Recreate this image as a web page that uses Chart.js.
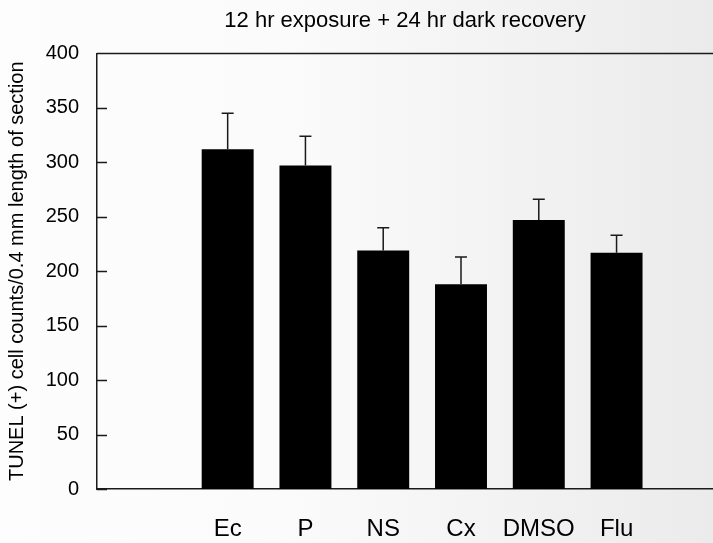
<!DOCTYPE html>
<html>
<head>
<meta charset="utf-8">
<script src="https://cdn.jsdelivr.net/npm/chart.js@4.4.1/dist/chart.umd.min.js"></script>
<style>
    html, body { margin: 0; padding: 0; }
    body {
        width: 713px;
        height: 543px;
        overflow: hidden;
        background: linear-gradient(to right, #fdfdfd 0%, #fbfbfb 40%, #ebebeb 100%);
    }
    #wrap { position: relative; width: 713px; height: 543px; }
</style>
</head>
<body>
<div id="wrap"><canvas id="tunelChart"></canvas></div>
<script>
// --- Data ---
const categories = ['Ec', 'P', 'NS', 'Cx', 'DMSO', 'Flu'];
const meanCounts = [312, 297, 219, 188, 247, 217];
const upperError = [33, 27, 21, 25, 19, 16];
const yTicks = [0, 50, 100, 150, 200, 250, 300, 350, 400];

const AXIS_COLOR = '#1a1a1a';
const FONT = "'Liberation Sans', Arial, sans-serif";

// error bars (upper only)
const errorBars = {
    id: 'errorBars',
    afterDatasetsDraw(chart) {
        const { ctx, scales: { y } } = chart;
        const meta = chart.getDatasetMeta(0);
        ctx.save();
        ctx.strokeStyle = AXIS_COLOR;
        ctx.lineWidth = 1.5;
        meta.data.forEach((bar, i) => {
            const yTop = y.getPixelForValue(meanCounts[i]);
            const yErr = y.getPixelForValue(meanCounts[i] + upperError[i]);
            ctx.beginPath();
            ctx.moveTo(bar.x, yTop);
            ctx.lineTo(bar.x, yErr);
            ctx.moveTo(bar.x - 6, yErr);
            ctx.lineTo(bar.x + 6, yErr);
            ctx.stroke();
        });
        ctx.restore();
    }
};

// top frame line + inward y ticks
const frame = {
    id: 'frame',
    afterDraw(chart) {
        const { ctx, chartArea, scales: { y } } = chart;
        ctx.save();
        ctx.strokeStyle = AXIS_COLOR;
        ctx.lineWidth = 1.5;
        ctx.beginPath();
        ctx.moveTo(chartArea.left, chartArea.top);
        ctx.lineTo(chartArea.right, chartArea.top);
        yTicks.forEach(v => {
            const py = Math.round(y.getPixelForValue(v)) + 0.5;
            ctx.moveTo(chartArea.left, py);
            ctx.lineTo(chartArea.left + 10, py);
        });
        ctx.stroke();
        ctx.restore();
    }
};

const ctx = document.getElementById('tunelChart').getContext('2d');
new Chart(ctx, {
    type: 'bar',
    data: {
        datasets: [{
            data: categories.map((c, i) => ({ x: i + 1, y: meanCounts[i] })),
            backgroundColor: '#000',
            borderWidth: 0,
            barPercentage: 0.668,
            categoryPercentage: 1
        }]
    },
    options: {
        responsive: true,
        maintainAspectRatio: false,
        animation: false,
        devicePixelRatio: 1,
        layout: { padding: 0 },
        plugins: {
            legend: { display: false },
            tooltip: { enabled: false },
            title: {
                display: true,
                text: '12 hr exposure + 24 hr dark recovery',
                color: '#000',
                fullSize: false,
                font: { family: FONT, size: 22, weight: 'normal' },
                padding: { top: 8, bottom: 19 }
            }
        },
        scales: {
            x: {
                type: 'linear',
                offset: false,
                min: -0.68,
                max: 7.24,
                afterBuildTicks: scale => { scale.ticks = categories.map((c, i) => ({ value: i + 1 })); },
                afterFit: scale => { scale.height = 54; },
                grid: { display: false },
                border: { display: true, color: AXIS_COLOR, width: 1.5 },
                ticks: {
                    autoSkip: false,
                    maxRotation: 0,
                    padding: 18,
                    color: '#000',
                    font: { family: FONT, size: 24 },
                    callback: v => categories[v - 1] || ''
                }
            },
            y: {
                min: 0,
                max: 400,
                afterBuildTicks: scale => { scale.ticks = yTicks.map(v => ({ value: v })); },
                afterFit: scale => { scale.width = 97; },
                grid: { display: false },
                border: { display: true, color: AXIS_COLOR, width: 1.5 },
                ticks: {
                    padding: 10,
                    color: '#000',
                    font: { family: FONT, size: 20 }
                },
                title: {
                    display: true,
                    text: 'TUNEL (+) cell counts/0.4 mm length of section',
                    color: '#000',
                    font: { family: FONT, size: 20 },
                    padding: { top: 5, bottom: 0 }
                }
            }
        }
    },
    plugins: [errorBars, frame]
});
</script>
</body>
</html>
